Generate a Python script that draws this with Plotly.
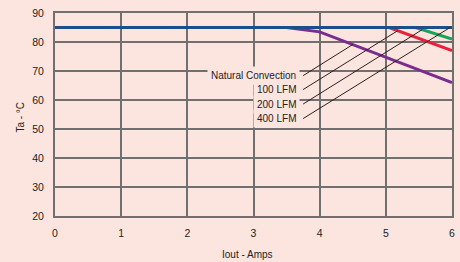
import numpy as np
import plotly.graph_objects as go

# ---- data ----
iout_nc = [0, 3.5, 4.0, 6.0]
ta_nc = [85, 85, 83.5, 66]
iout_100 = [0, 5.05, 6.0]
ta_100 = [85, 85, 77]
iout_200 = [0, 5.45, 6.0]
ta_200 = [85, 85, 81]
iout_400 = [0, 6.0]
ta_400 = [85, 85]

series_names = ["Natural Convection", "100 LFM", "200 LFM", "400 LFM"]
series_colors = ["#7B2C8F", "#E8213B", "#16A35A", "#1C4E8B"]

label_x = [3.70, 3.70, 3.70, 3.70]        # right edge of the label text
label_y = [68.4, 63.6, 58.6, 53.6]
leader_end_x = [4.50, 5.18, 5.55, 5.97]   # where each leader line meets its curve

x_ticks = [0, 1, 2, 3, 4, 5, 6]
y_ticks = [20, 30, 40, 50, 60, 70, 80, 90]

x_title = "Iout - Amps"
y_title = "Ta - °C"

BG = "#FCE5DF"
GRID = "#707070"
FONT = "Liberation Sans, Arial, sans-serif"

xs = [iout_nc, iout_100, iout_200, iout_400]
ys = [ta_nc, ta_100, ta_200, ta_400]

fig = go.Figure()
for x, y, name, c in zip(xs, ys, series_names, series_colors):
    fig.add_trace(go.Scatter(x=x, y=y, mode="lines", name=name,
                             line=dict(color=c, width=3), hoverinfo="skip"))

shapes = []
annotations = []
for i, name in enumerate(series_names):
    end_y = float(np.interp(leader_end_x[i], xs[i], ys[i]))
    annotations.append(dict(x=label_x[i], y=label_y[i], xref="x", yref="y",
                            text=name, showarrow=False, xanchor="right", yanchor="middle",
                            font=dict(family=FONT, size=10, color="#222222"),
                            bgcolor=BG, borderpad=3))
    shapes.append(dict(type="line", xref="x", yref="y",
                       x0=label_x[i] + 0.05, y0=label_y[i],
                       x1=leader_end_x[i], y1=end_y,
                       line=dict(color="#2A2020", width=1), layer="above"))

annotations.append(dict(x=0.485, y=-0.19, xref="paper", yref="paper", text=x_title,
                        showarrow=False, xanchor="center", yanchor="middle",
                        font=dict(family=FONT, size=10, color="#222222")))
annotations.append(dict(x=-0.086, y=0.489, xref="paper", yref="paper", text=y_title,
                        showarrow=False, xanchor="center", yanchor="middle", textangle=-90,
                        font=dict(family=FONT, size=10, color="#222222")))

fig.update_layout(
    width=460, height=262,
    margin=dict(l=55.3, r=7.5, t=13, b=45.5, autoexpand=False),
    paper_bgcolor=BG, plot_bgcolor=BG,
    showlegend=False,
    font=dict(family=FONT, size=10, color="#222222"),
    shapes=shapes, annotations=annotations,
)
fig.update_xaxes(range=[0, 6], tickvals=x_ticks, showgrid=True, gridcolor=GRID, gridwidth=2,
                 showline=True, mirror=True, linecolor=GRID, linewidth=2, zeroline=False,
                 ticks="", ticklabelstandoff=6, automargin=False,
                 tickfont=dict(family=FONT, size=10.5, color="#222222"))
fig.update_yaxes(range=[20, 90], tickvals=y_ticks, showgrid=True, gridcolor=GRID, gridwidth=2,
                 showline=True, mirror=True, linecolor=GRID, linewidth=2, zeroline=False,
                 ticks="", ticklabelstandoff=7, automargin=False,
                 tickfont=dict(family=FONT, size=10.5, color="#222222"))

fig.write_html("out.html", config={"displayModeBar": False, "staticPlot": True},
               post_script="document.body.style.margin='0px';document.body.style.background='%s';" % BG)
